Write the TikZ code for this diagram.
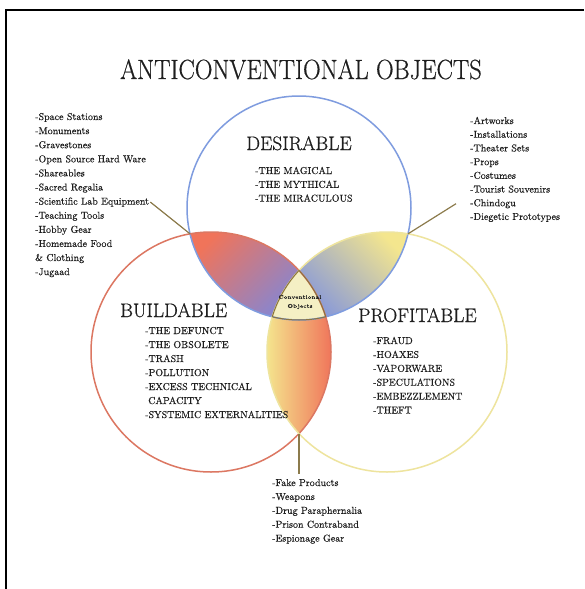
\documentclass[tikz,border=0pt]{standalone}
\usepackage{graphicx}
\usepackage{fontspec}
\newfontfamily\dkserif{Latin Modern Roman}[FakeBold=0.35]
\newfontfamily\dkhead{Latin Modern Roman}[FakeBold=0.6]
\definecolor{bluec}{HTML}{7F9CDF}
\definecolor{redc}{HTML}{DC7762}
\definecolor{yelc}{HTML}{EEE49E}
\definecolor{blues}{HTML}{7289E8}
\definecolor{reds}{HTML}{F0745A}
\definecolor{yels}{HTML}{F4E68E}
\definecolor{tri}{HTML}{F4EFC4}
\definecolor{trid}{HTML}{8A7440}
\definecolor{conn}{HTML}{8C7B4C}
\definecolor{txt}{HTML}{1E1E1E}
\begin{document}
\begin{tikzpicture}[x=1pt,y=-1pt,
  heading/.style={font=\dkhead\fontsize{19.5}{22}\selectfont, text=txt, inner sep=0pt},
  item/.style={font=\dkserif\fontsize{10}{12}\selectfont, text=txt, inner sep=0pt, anchor=base west},
  connector/.style={draw=conn, line width=1.2pt},
  circ/.style={line width=1.5pt}]
\useasboundingbox (0,0) rectangle (584,589);
\fill[white] (0,0) rectangle (584,589);
% frame
\draw[line width=2.5pt] (6,589) -- (6,10) -- (584,10);
% centres
\coordinate (cb) at (299,208);
\coordinate (cr) at (211,352);
\coordinate (cy) at (387,352);
% lens red-blue
\begin{scope}
  \clip (cb) circle[radius=112pt];
  \clip (cr) circle[radius=120pt];
  \shade[top color=reds, bottom color=blues, shading angle=45] (186,228) rectangle (330,322);
\end{scope}
% lens blue-yellow
\begin{scope}
  \clip (cb) circle[radius=112pt];
  \clip (cy) circle[radius=120pt];
  \shade[top color=yels, bottom color=blues, shading angle=-45] (268,228) rectangle (412,322);
\end{scope}
% lens red-yellow
\begin{scope}
  \clip (cr) circle[radius=120pt];
  \clip (cy) circle[radius=120pt];
  \shade[left color=yels, right color=reds] (266,266) rectangle (332,438);
\end{scope}
% triple region
\begin{scope}
  \clip (cb) circle[radius=112pt];
  \clip (cr) circle[radius=120pt];
  \fill[tri] (cy) circle[radius=120pt];
\end{scope}
% circle outlines
\draw[circ, bluec] (cb) circle[radius=112pt];
\draw[circ, redc] (cr) circle[radius=120pt];
\draw[circ, yelc] (cy) circle[radius=120pt];
% triple outline
\begin{scope}
  \clip (cb) circle[radius=112pt];
  \clip (cr) circle[radius=120pt];
  \draw[trid, line width=1pt] (cy) circle[radius=120pt];
\end{scope}
\begin{scope}
  \clip (cb) circle[radius=112pt];
  \clip (cy) circle[radius=120pt];
  \draw[trid, line width=1pt] (cr) circle[radius=120pt];
\end{scope}
\begin{scope}
  \clip (cr) circle[radius=120pt];
  \clip (cy) circle[radius=120pt];
  \draw[trid, line width=1pt] (cb) circle[radius=112pt];
\end{scope}
% title
\node[font=\dkhead\fontsize{27.8}{30}\selectfont, text=txt, anchor=base, inner sep=0pt] (title) at (301,79) {\scalebox{0.88}[1]{ANTICONVENTIONAL OBJECTS}};
% headings
\node[heading, anchor=base] (des) at (299,150) {DESIRABLE};
\node[heading, anchor=base west] (bui) at (120,317) {BUILDABLE};
\node[heading, anchor=base west] (pro) at (358,322) {PROFITABLE};
% centre text
\node[font=\dkserif\fontsize{5.5}{9}\selectfont, text=txt, align=center, inner sep=0pt] (conv) at (300,302) {Conventional\\Objects};
% desirable items
\foreach \t [count=\i] in {-THE MAGICAL,-THE MYTHICAL,-THE MIRACULOUS}
  \node[item] (D\i) at (255,{174+(\i-1)*13.8}) {\t};
% buildable items
\foreach \t [count=\i] in {-THE DEFUNCT,-THE OBSOLETE,-TRASH,-POLLUTION,-EXCESS TECHNICAL}
  \node[item] (U\i) at (145,{334+(\i-1)*14}) {\t};
\node[item] (U6) at (148,404) {CAPACITY};
\node[item] (U7) at (145,418) {-SYSTEMIC EXTERNALITIES};
% profitable items
\foreach \t [count=\i] in {-FRAUD,-HOAXES,-VAPORWARE,-SPECULATIONS,-EMBEZZLEMENT,-THEFT}
  \node[item] (P\i) at (373,{344+(\i-1)*13.9}) {\t};
% left list
\foreach \t [count=\i] in {-Space Stations,-Monuments,-Gravestones,-Open Source Hard Ware,-Shareables,-Sacred Regalia,-Scientific Lab Equipment,-Teaching Tools,-Hobby Gear,-Homemade Food,\& Clothing,-Jugaad}
  \node[item] (L\i) at (35,{120+(\i-1)*14.1}) {\t};
% right list
\foreach \t [count=\i] in {-Artworks,-Installations,-Theater Sets,-Props,-Costumes,-Tourist Souvenirs,-Chindogu,-Diegetic Prototypes}
  \node[item] (R\i) at (470,{124+(\i-1)*13.7}) {\t};
% bottom list
\foreach \t [count=\i] in {-Fake Products,-Weapons,-Drug Paraphernalia,-Prison Contraband,-Espionage Gear}
  \node[item] (B\i) at (272,{486+(\i-1)*13.9}) {\t};
% connectors
\coordinate (rbx) at (190.1,233.9);
\coordinate (byx) at (407.9,233.9);
\coordinate (ryx) at (299,433.6);
\coordinate (bend) at (299,474);
\draw[connector] ([xshift=1pt]L7.east) -- (rbx);
\draw[connector] (byx) -- ([xshift=-14pt]R7.west);
\draw[connector] (ryx) -- (bend);
\end{tikzpicture}
\end{document}
